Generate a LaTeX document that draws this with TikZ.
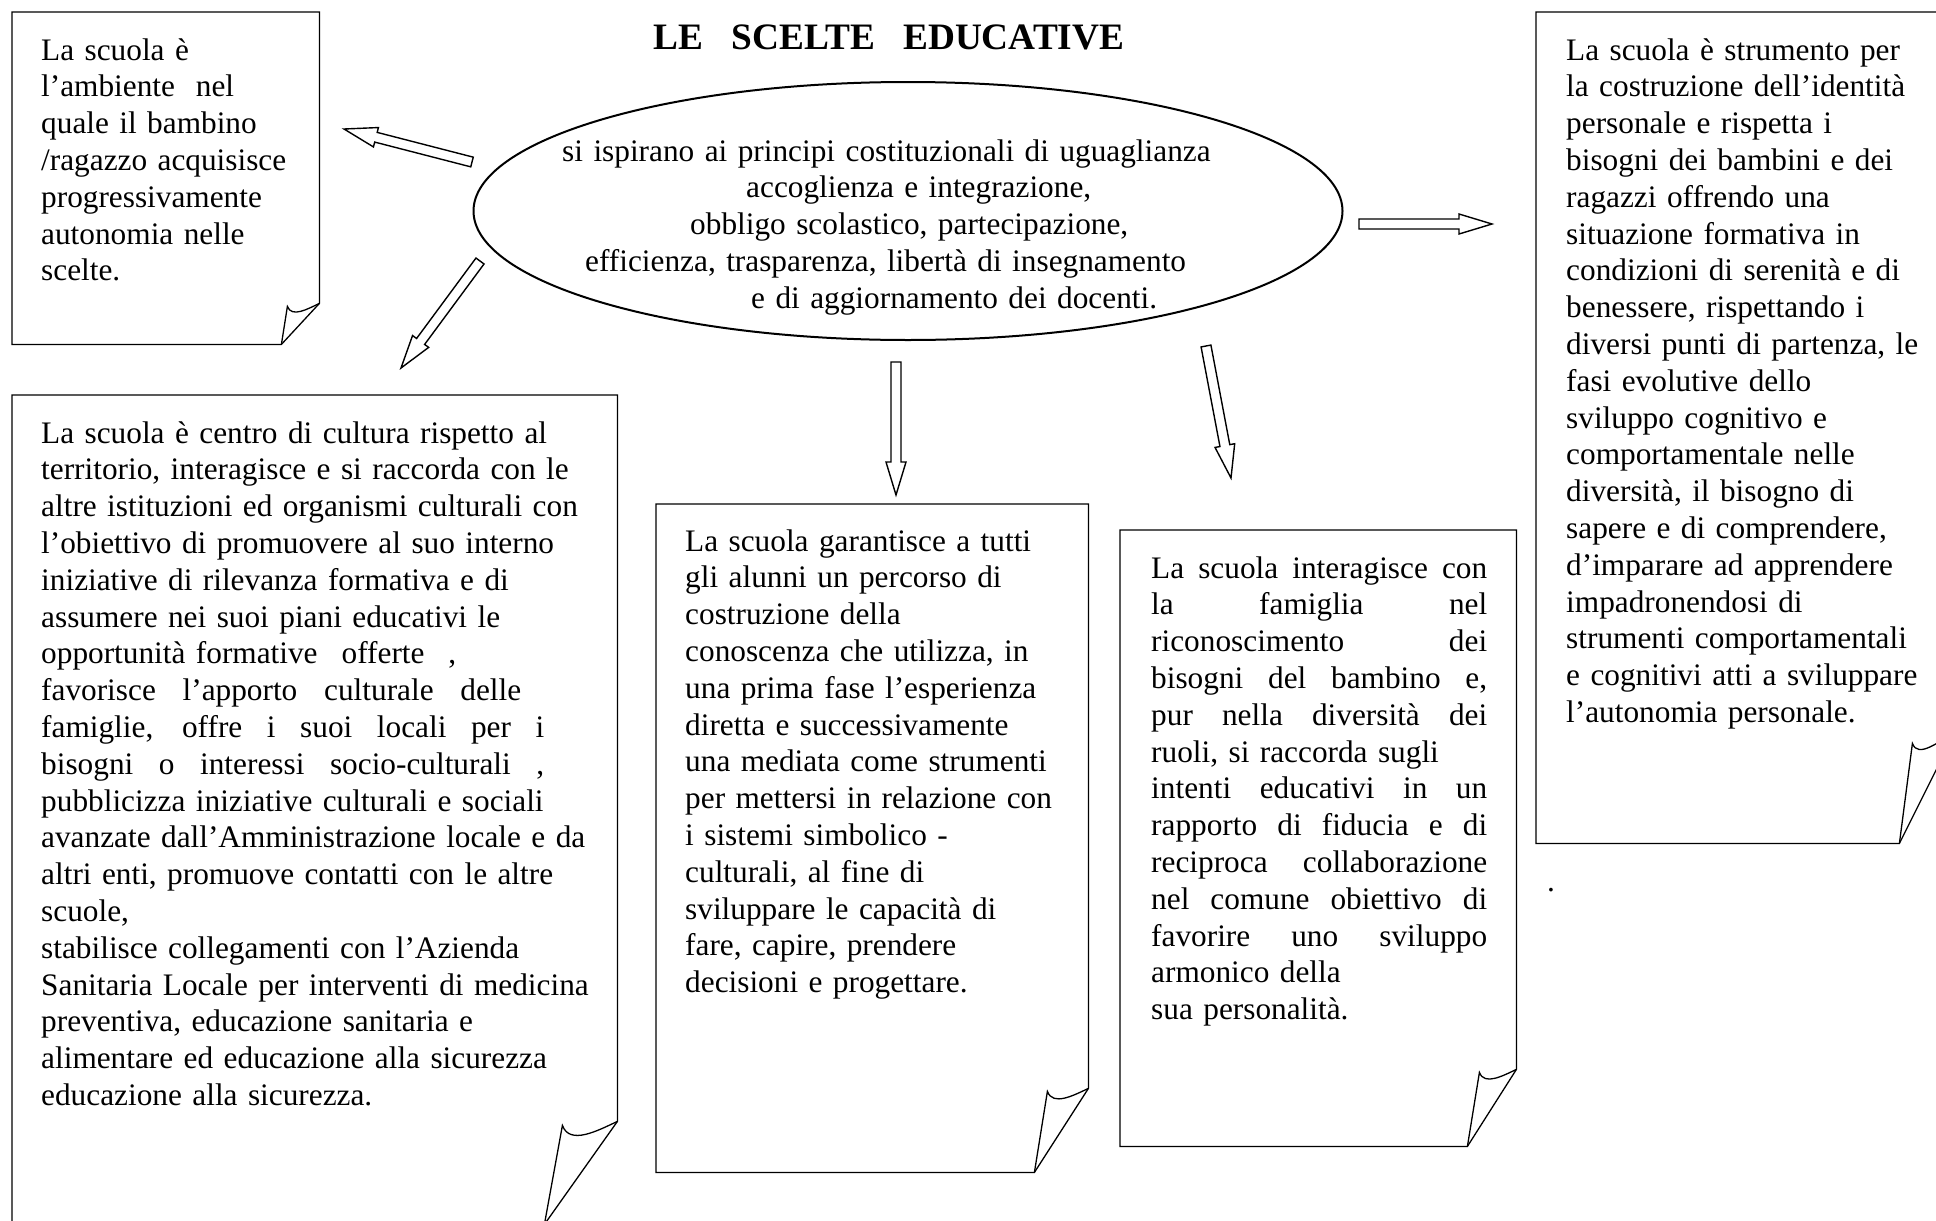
\documentclass[tikz,border=0pt]{standalone}
\usepackage{fontspec}
\setmainfont{Liberation Serif}
\usepackage{tikz}
\usetikzlibrary{shapes.geometric, calc}
\tikzstyle{note} = [rectangle, anchor=north west, inner sep=0pt]
\tikzstyle{outline} = [draw=black, line width=1.3pt, line join=miter]
\tikzstyle{testo} = [anchor=base west, inner sep=0pt, align=left,
font=\fontsize{31.3}{36.8}\selectfont]
\tikzstyle{bolla} = [ellipse, draw=black, line width=2pt, inner sep=0pt,
minimum width=869pt, minimum height=258pt]
\tikzstyle{blockarrow} = [draw=black, fill=white, line width=1.4pt, line join=miter]

% box with curled corner: node, fold x, fold y, tip x, tip y
\newcommand{\curlnote}[5]{%
\draw[outline] (#1.north west) -- (#1.north east) -- ($(#1.south east)+(0,#3)$)
  -- ($(#1.south east)+(-#2,0)$) -- (#1.south west) -- cycle;
\draw[outline] ($(#1.south east)+(-#2,0)$) -- ($(#1.south east)+(-#2+#4,#5)$)
  to[out=-70,in=-155] ($(#1.south east)+(0,#3)$);
}
% hollow arrow from one coordinate to another
\newcommand{\blockarrow}[2]{%
\draw[blockarrow] let \p1=($(#2)-(#1)$), \n1={atan2(\y1,\x1)} in
  ($(#1)+(\n1+90:5pt)$) -- ($(#2)+(\n1+180:33pt)+(\n1+90:5pt)$)
  -- ($(#2)+(\n1+180:33pt)+(\n1+90:10pt)$) -- (#2)
  -- ($(#2)+(\n1+180:33pt)+(\n1-90:10pt)$)
  -- ($(#2)+(\n1+180:33pt)+(\n1-90:5pt)$) -- ($(#1)+(\n1-90:5pt)$) -- cycle;
}
% justified line of a given width
\newcommand{\jline}[2]{\leavevmode\hbox to #1pt{\spaceskip=0.25em plus 1fil\relax #2}}

\begin{document}
\begin{tikzpicture}[x=1pt, y=1pt]
\useasboundingbox (0,0) rectangle (1936,-1221);
\clip (0,0) rectangle (1936,-1221);
%Title and ellipse
\node[anchor=base, inner sep=0pt, font=\fontsize{37.3}{44}\selectfont\bfseries] (titolo) at (889,-49) {LE\ \ \ SCELTE\ \ \ EDUCATIVE};
\node[bolla] (principi) at (908,-211) {};
\node[testo, text width=680pt] (ispirano) at (562,-161) {si ispirano ai principi costituzionali di uguaglianza\\
\hspace*{184pt}accoglienza e integrazione,\\
\hspace*{128pt}obbligo scolastico, partecipazione,\\
\hspace*{23pt}efficienza, trasparenza, libertà di insegnamento\\
\hspace*{189pt}e di aggiornamento dei docenti.};
%The boxes
\node[note, minimum width=307pt, minimum height=332pt] (b1) at (12,-12) {};
\node[note, minimum width=605pt, minimum height=829pt] (b2) at (12,-395) {};
\node[note, minimum width=432pt, minimum height=668pt] (b3) at (656,-504) {};
\node[note, minimum width=396pt, minimum height=616pt] (b4) at (1120,-530) {};
\node[note, minimum width=418pt, minimum height=831pt] (b5) at (1536,-12) {};
\curlnote{b1}{38}{41}{6}{38}
\curlnote{b2}{73}{103}{18}{99}
\curlnote{b3}{54}{84}{13}{81}
\curlnote{b4}{49}{77}{12}{74}
\curlnote{b5}{55}{110}{13}{100}
%Texts of the boxes
\node[testo, text width=270pt] (t1) at (41,-60) {La scuola è\\
l’ambiente\ \ nel\\
quale il bambino\\
/ragazzo acquisisce\\
progressivamente\\
autonomia nelle\\
scelte.};
\node[testo, text width=570pt] (t2) at (41,-443) {La scuola è centro di cultura rispetto al\\
territorio, interagisce e si raccorda con le\\
altre istituzioni ed organismi culturali con\\
l’obiettivo di promuovere al suo interno\\
iniziative di rilevanza formativa e di\\
assumere nei suoi piani educativi le\\
opportunità formative\hspace{24pt}offerte\hspace{24pt},\\
\jline{480}{favorisce l’apporto culturale delle}\\
\jline{503}{famiglie, offre i suoi locali per i}\\
\jline{503}{bisogni o interessi socio-culturali ,}\\
pubblicizza iniziative culturali e sociali\\
avanzate dall’Amministrazione locale e da\\
altri enti, promuove contatti con le altre\\
scuole,\\
stabilisce collegamenti con l’Azienda\\
Sanitaria Locale per interventi di medicina\\
preventiva, educazione sanitaria e\\
alimentare ed educazione alla sicurezza\\
educazione alla sicurezza.};
\node[testo, text width=390pt] (t3) at (685,-551) {La scuola garantisce a tutti\\
gli alunni un percorso di\\
costruzione della\\
conoscenza che utilizza, in\\
una prima fase l’esperienza\\
diretta e successivamente\\
una mediata come strumenti\\
per mettersi in relazione con\\
i sistemi simbolico -\\
culturali, al fine di\\
sviluppare le capacità di\\
fare, capire, prendere\\
decisioni e progettare.};
\node[testo, text width=340pt] (t4) at (1151,-578) {\jline{336}{La scuola interagisce con}\\
\jline{336}{la famiglia nel}\\
\jline{336}{riconoscimento dei}\\
\jline{336}{bisogni del bambino e,}\\
\jline{336}{pur nella diversità dei}\\
ruoli, si raccorda sugli\\
\jline{336}{intenti educativi in un}\\
\jline{336}{rapporto di fiducia e di}\\
\jline{336}{reciproca collaborazione}\\
\jline{336}{nel comune obiettivo di}\\
\jline{336}{favorire uno sviluppo}\\
armonico della\\
sua personalità.};
\node[testo, text width=360pt] (t5) at (1566,-60) {La scuola è strumento per\\
la costruzione dell’identità\\
personale e rispetta i\\
bisogni dei bambini e dei\\
ragazzi offrendo una\\
situazione formativa in\\
condizioni di serenità e di\\
benessere, rispettando i\\
diversi punti di partenza, le\\
fasi evolutive dello\\
sviluppo cognitivo e\\
comportamentale nelle\\
diversità, il bisogno di\\
sapere e di comprendere,\\
d’imparare ad apprendere\\
impadronendosi di\\
strumenti comportamentali\\
e cognitivi atti a sviluppare\\
l’autonomia personale.};
\node[testo] (punto) at (1547,-891) {.};
% Arrow ends
\coordinate (a1tail) at (472,-162);
\coordinate (a1head) at (344,-129);
\coordinate (a2tail) at (480,-261);
\coordinate (a2head) at (401,-368);
\coordinate (a3tail) at (896,-362);
\coordinate (a3head) at (896,-495);
\coordinate (a4tail) at (1206,-346);
\coordinate (a4head) at (1231,-478);
\coordinate (a5tail) at (1359,-224);
\coordinate (a5head) at (1492,-224);
% Drawing the arrows
\blockarrow{a1tail}{a1head}
\blockarrow{a2tail}{a2head}
\blockarrow{a3tail}{a3head}
\blockarrow{a4tail}{a4head}
\blockarrow{a5tail}{a5head}
\end{tikzpicture}
\end{document}
